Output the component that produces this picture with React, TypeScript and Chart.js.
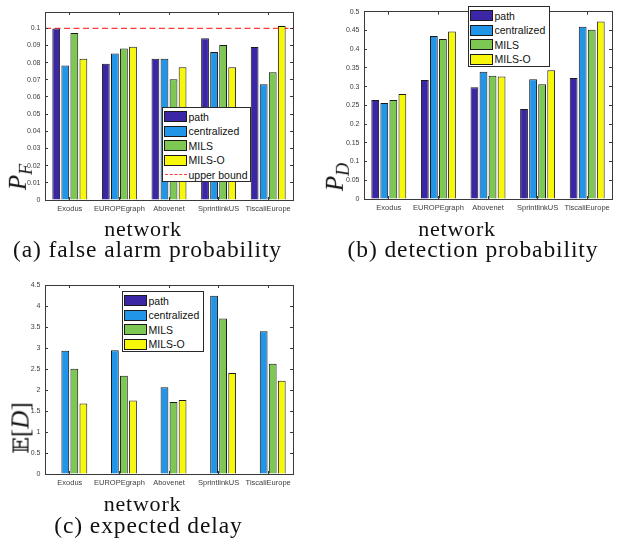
import React, { useEffect, useRef } from 'react';
import { Chart, registerables } from 'chart.js';

Chart.register(...registerables);

// ---------- data ----------
const networks = ['Exodus', 'EUROPEgraph', 'Abovenet', 'SprintlinkUS', 'TiscaliEurope'];
const seriesNames = ['path', 'centralized', 'MILS', 'MILS-O'];

// (a) false alarm probability
const pfPath = [0.0999, 0.0794, 0.0823, 0.0942, 0.0891];
const pfCentralized = [0.0783, 0.0854, 0.0823, 0.0862, 0.0674];
const pfMILS = [0.0973, 0.0883, 0.0703, 0.0903, 0.0744];
const pfMILSO = [0.0823, 0.0893, 0.0773, 0.0773, 0.1014];
const pfUpperBound = 0.1;

// (b) detection probability
const pdPath = [0.264, 0.318, 0.298, 0.240, 0.323];
const pdCentralized = [0.256, 0.435, 0.340, 0.320, 0.460];
const pdMILS = [0.264, 0.427, 0.329, 0.306, 0.452];
const pdMILSO = [0.280, 0.447, 0.327, 0.344, 0.474];

// (c) expected delay
const edPath = [0, 0, 0, 0, 0];
const edCentralized = [2.937, 2.945, 2.067, 4.246, 3.4];
const edMILS = [2.506, 2.338, 1.716, 3.703, 2.626];
const edMILSO = [1.676, 1.748, 1.764, 2.402, 2.219];

// ---------- style ----------
const seriesColors = ['#3B26A6', '#2196E8', '#7CC852', '#F7F70A'];
const boundColor = '#FF3B3B';
const edgeColor = '#1a1a1a';
const axisColor = '#3a3a3a';
const tickColor = '#404040';
const sansFont = '"Liberation Sans", Arial, Helvetica, sans-serif';
const serifFont = '"Liberation Serif", "Times New Roman", serif';

type PanelProps = {
  left: number;
  top: number;
  width: number;
  height: number;
  plotLeft: number;
  plotTop: number;
  plotRight: number;
  plotBottom: number;
  series: number[][];
  yMax: number;
  yStep: number;
  upperBound?: number;
};

const fmtTick = (v: any) => String(Number(Number(v).toFixed(4)));

function BarPanel(p: PanelProps) {
  const ref = useRef<HTMLCanvasElement>(null);
  const lineRef = useRef<HTMLCanvasElement>(null);
  useEffect(() => {
    if (!ref.current) return;
    const datasets: any[] = p.series.map((vals, i) => ({
      label: seriesNames[i],
      data: vals,
      backgroundColor: seriesColors[i],
      borderColor: edgeColor,
      borderWidth: 1,
      barPercentage: 0.86,
      categoryPercentage: 0.73,
    }));
    const yAxisWidth = p.plotLeft - p.left;
    const xAxisHeight = p.top + p.height - p.plotBottom;
    const padTop = p.plotTop - p.top;
    const padRight = p.left + p.width - p.plotRight;
    const tickGrid = {
      display: true,
      drawOnChartArea: false,
      drawTicks: true,
      tickLength: -3,
      color: axisColor,
      lineWidth: 1,
    };
    const chart = new Chart(ref.current, {
      type: 'bar',
      data: { labels: networks, datasets },
      options: {
        animation: false,
        responsive: false,
        layout: { padding: { left: 0, top: padTop, right: padRight, bottom: 0 } },
        plugins: { legend: { display: false }, tooltip: { enabled: false }, title: { display: false } },
        scales: {
          x: {
            type: 'category',
            position: 'bottom',
            offset: true,
            grid: { ...tickGrid, offset: false },
            border: { display: true, color: axisColor, width: 1 },
            ticks: {
              font: { family: sansFont, size: 7.5 },
              color: tickColor,
              padding: 7,
              maxRotation: 0,
              minRotation: 0,
              autoSkip: false,
            },
            afterFit: (s: any) => {
              s.height = xAxisHeight;
            },
          },
          x2: {
            type: 'category',
            position: 'top',
            offset: true,
            grid: { ...tickGrid, offset: false },
            border: { display: true, color: axisColor, width: 1 },
            ticks: { display: false },
            afterFit: (s: any) => {
              s.height = 0;
            },
          },
          y: {
            type: 'linear',
            position: 'left',
            min: 0,
            max: p.yMax,
            grid: tickGrid,
            border: { display: true, color: axisColor, width: 1 },
            ticks: {
              stepSize: p.yStep,
              includeBounds: false,
              font: { family: sansFont, size: 7 },
              color: tickColor,
              padding: 7.5,
              callback: fmtTick,
            },
            afterFit: (s: any) => {
              s.width = yAxisWidth;
            },
          },
          y2: {
            type: 'linear',
            position: 'right',
            min: 0,
            max: p.yMax,
            grid: tickGrid,
            border: { display: true, color: axisColor, width: 1 },
            ticks: { display: false, stepSize: p.yStep, includeBounds: false },
            afterFit: (s: any) => {
              s.width = 0;
            },
          },
        },
      } as any,
    });

    // upper bound line: separate chart underneath, same plot area
    let lineChart: Chart | null = null;
    if (p.upperBound !== undefined && lineRef.current) {
      lineChart = new Chart(lineRef.current, {
        type: 'line',
        data: {
          datasets: [
            {
              label: 'upper bound',
              data: [
                { x: 0, y: p.upperBound },
                { x: 1, y: p.upperBound },
              ],
              borderColor: boundColor,
              borderWidth: 1.3,
              borderDash: [6, 3.5],
              pointRadius: 0,
              fill: false,
            },
          ],
        },
        options: {
          animation: false,
          responsive: false,
          layout: {
            padding: { left: yAxisWidth, top: padTop, right: padRight, bottom: xAxisHeight },
          },
          plugins: { legend: { display: false }, tooltip: { enabled: false } },
          scales: {
            x: { type: 'linear', display: false, min: 0, max: 1 },
            y: { type: 'linear', display: false, min: 0, max: p.yMax },
          },
        } as any,
      });
    }
    return () => {
      chart.destroy();
      if (lineChart) lineChart.destroy();
    };
  }, []);
  const style: React.CSSProperties = {
    position: 'absolute',
    left: p.left,
    top: p.top,
    width: p.width,
    height: p.height,
  };
  return (
    <>
      {p.upperBound !== undefined && <canvas ref={lineRef} width={p.width} height={p.height} style={style} />}
      <canvas ref={ref} width={p.width} height={p.height} style={style} />
    </>
  );
}

type LegendItem = { label: string; color: string; dashed?: boolean };

function Legend({ x, y, w, items }: { x: number; y: number; w: number; items: LegendItem[] }) {
  const rowGap = 14.6;
  const first = 9.5;
  const h = first + (items.length - 1) * rowGap + 7.5;
  return (
    <div
      style={{
        position: 'absolute',
        left: x,
        top: y,
        width: w,
        height: h,
        boxSizing: 'border-box',
        border: '1px solid #2a2a2a',
        background: '#fff',
      }}
    >
      {items.map((it, i) => {
        const cy = first + i * rowGap - 1;
        return (
          <React.Fragment key={it.label}>
            {it.dashed ? (
              <div
                style={{
                  position: 'absolute',
                  left: 2,
                  top: cy - 0.5,
                  width: 22,
                  height: 0,
                  borderTop: `1.5px dashed ${it.color}`,
                }}
              />
            ) : (
              <div
                style={{
                  position: 'absolute',
                  left: 1,
                  top: cy - 5.5,
                  width: 23,
                  height: 11,
                  boxSizing: 'border-box',
                  background: it.color,
                  border: `1px solid ${edgeColor}`,
                }}
              />
            )}
            <div
              style={{
                position: 'absolute',
                left: 25.5,
                top: cy - 6,
                height: 12,
                lineHeight: '12px',
                fontFamily: sansFont,
                fontSize: 10.5,
                color: '#111',
                whiteSpace: 'nowrap',
              }}
            >
              {it.label}
            </div>
          </React.Fragment>
        );
      })}
    </div>
  );
}

function CenterText({ x, y, size, spacing, children }: { x: number; y: number; size: number; spacing?: number; children: any }) {
  return (
    <div
      style={{
        position: 'absolute',
        left: x,
        top: y,
        transform: 'translate(-50%, -50%)',
        fontFamily: serifFont,
        fontSize: size,
        lineHeight: 1,
        letterSpacing: spacing ?? 0,
        color: '#111',
        whiteSpace: 'nowrap',
      }}
    >
      {children}
    </div>
  );
}

function YLabel({ x, y, children }: { x: number; y: number; children: any }) {
  return (
    <div
      style={{
        position: 'absolute',
        left: x,
        top: y,
        transform: 'translate(-50%, -50%) rotate(-90deg)',
        fontFamily: serifFont,
        fontSize: 25,
        lineHeight: 1,
        color: '#111',
        whiteSpace: 'nowrap',
      }}
    >
      {children}
    </div>
  );
}

const legendItems: LegendItem[] = seriesNames.map((s, i) => ({ label: s, color: seriesColors[i] }));

export default function App() {
  useEffect(() => {
    document.body.style.margin = '0';
  }, []);
  return (
    <div
      style={{
        position: 'fixed',
        left: 0,
        top: 0,
        width: 621,
        height: 541,
        background: '#fff',
        overflow: 'hidden',
      }}
    >
      {/* (a) */}
      <BarPanel
        left={0}
        top={0}
        width={310}
        height={222}
        plotLeft={45}
        plotTop={12}
        plotRight={293}
        plotBottom={200}
        series={[pfPath, pfCentralized, pfMILS, pfMILSO]}
        yMax={0.1095}
        yStep={0.01}
        upperBound={pfUpperBound}
      />
      <Legend
        x={162}
        y={107}
        w={89}
        items={[...legendItems, { label: 'upper bound', color: boundColor, dashed: true }]}
      />
      <YLabel x={20} y={177}>
        <i>P</i>
        <sub style={{ fontSize: 18, verticalAlign: '-0.35em' }}>
          <i>F</i>
        </sub>
      </YLabel>
      <CenterText x={143} y={229} size={22} spacing={0.8}>
        network
      </CenterText>
      <CenterText x={147.5} y={249.5} size={23.5} spacing={0.9}>
        (a) false alarm probability
      </CenterText>

      {/* (b) */}
      <BarPanel
        left={310}
        top={0}
        width={311}
        height={222}
        plotLeft={364}
        plotTop={11}
        plotRight={612}
        plotBottom={199}
        series={[pdPath, pdCentralized, pdMILS, pdMILSO]}
        yMax={0.5}
        yStep={0.05}
      />
      <Legend x={468} y={6} w={82} items={legendItems} />
      <YLabel x={337} y={177}>
        <i>P</i>
        <sub style={{ fontSize: 18, verticalAlign: '-0.35em' }}>
          <i>D</i>
        </sub>
      </YLabel>
      <CenterText x={457} y={229} size={22} spacing={0.8}>
        network
      </CenterText>
      <CenterText x={473} y={249.5} size={23.5} spacing={0.9}>
        (b) detection probability
      </CenterText>

      {/* (c) */}
      <BarPanel
        left={0}
        top={270}
        width={310}
        height={222}
        plotLeft={45}
        plotTop={285}
        plotRight={293}
        plotBottom={474}
        series={[edPath, edCentralized, edMILS, edMILSO]}
        yMax={4.5}
        yStep={0.5}
      />
      <Legend x={122} y={291} w={82} items={legendItems} />
      <YLabel x={20} y={428}>
        <span style={{ fontFamily: '"DejaVu Serif", "DejaVu Sans", serif', fontSize: 22 }}>𝔼</span>[<i>D</i>]
      </YLabel>
      <CenterText x={142.5} y={503.5} size={22} spacing={0.8}>
        network
      </CenterText>
      <CenterText x={148.5} y={526} size={23.5} spacing={0.9}>
        (c) expected delay
      </CenterText>
    </div>
  );
}
